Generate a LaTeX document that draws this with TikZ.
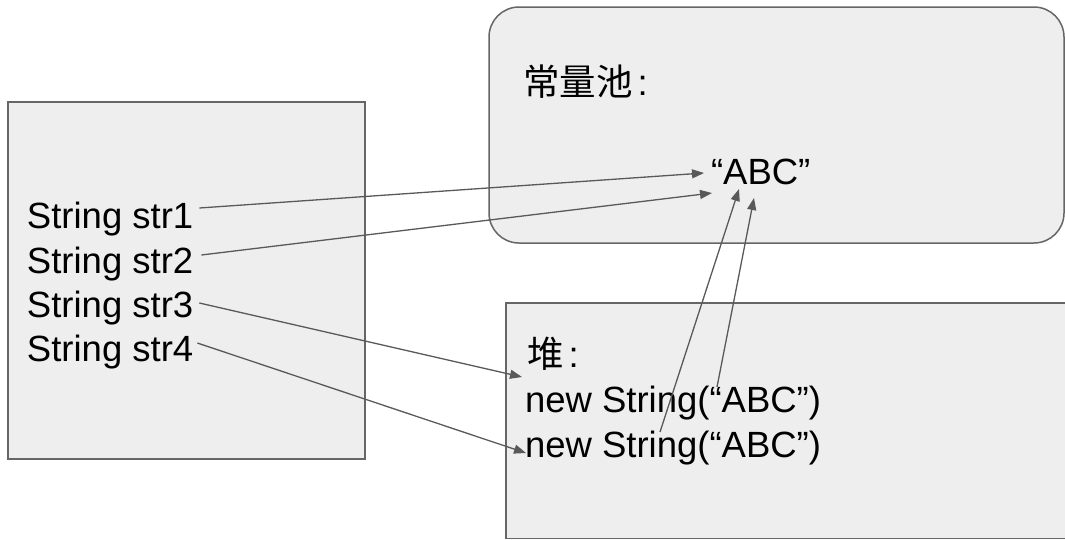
\documentclass[tikz,border=0pt]{standalone}
\usepackage{fontspec}
\setmainfont{Liberation Sans}
\newfontfamily\cjk{Noto Sans CJK SC}
\usetikzlibrary{arrows.meta}

\definecolor{dialinecolor}{rgb}{0.400000, 0.400000, 0.400000}
\definecolor{diafillcolor}{rgb}{0.933333, 0.933333, 0.933333}
\definecolor{diaarrowcolor}{rgb}{0.349020, 0.349020, 0.349020}

\tikzset{
  membox/.style={draw=dialinecolor, fill=diafillcolor, line width=1.5pt, inner sep=0pt, outer sep=0pt},
  memtext/.style={anchor=base west, inner sep=0pt, outer sep=0pt, font=\fontsize{36.5}{44}\selectfont},
  ref/.style={draw=diaarrowcolor, line width=1.3pt, -{Triangle[length=12pt,width=9pt]}}
}

\begin{document}
\begin{tikzpicture}[x=1pt, y=-1pt]
\clip (0,0) rectangle (1065,539);
% boxes
\node[membox, minimum width=357pt, minimum height=357pt] (stack) at (186.5,280.5) {};
\node[membox, rounded corners=30pt, minimum width=575pt, minimum height=236pt] (pool) at (776.5,125) {};
\node[membox, minimum width=700pt, minimum height=235.5pt] (heap) at (856,420.75) {};
% texts
\node[memtext] (poolname) at (523,95) {{\cjk 常量池}\hspace{5pt}:};
\node[memtext] (abc) at (711,184) {“ABC”};
\node[memtext] (heapname) at (527,367) {{\cjk 堆}\hspace{5pt}:};
\node[memtext] (new1) at (525,412) {new String(“ABC”)};
\node[memtext] (new2) at (525,457) {new String(“ABC”)};
\node[memtext] (s1) at (27,228) {String str1};
\node[memtext] (s2) at (27,273) {String str2};
\node[memtext] (s3) at (27,317) {String str3};
\node[memtext] (s4) at (27,361) {String str4};
% references
\draw[ref] ([xshift=6pt,yshift=20pt]s1.base east) -- ([xshift=-7pt,yshift=11pt]abc.base west);
\draw[ref] ([xshift=8pt,yshift=18pt]s2.base east) -- ([xshift=1pt,yshift=-9pt]abc.base west);
\draw[ref] ([xshift=6pt,yshift=14pt]s3.base east) -- ([xshift=-5pt,yshift=-10pt]heapname.base west);
\draw[ref] ([xshift=4pt,yshift=18pt]s4.base east) -- ([xshift=1pt,yshift=4pt]new2.base west);
\draw[ref] ([xshift=135pt,yshift=25pt]new2.base west) -- ([xshift=28pt,yshift=-5pt]abc.base west);
\draw[ref] ([xshift=192pt,yshift=25pt]new1.base west) -- ([xshift=43pt,yshift=-14pt]abc.base west);
\end{tikzpicture}
\end{document}
